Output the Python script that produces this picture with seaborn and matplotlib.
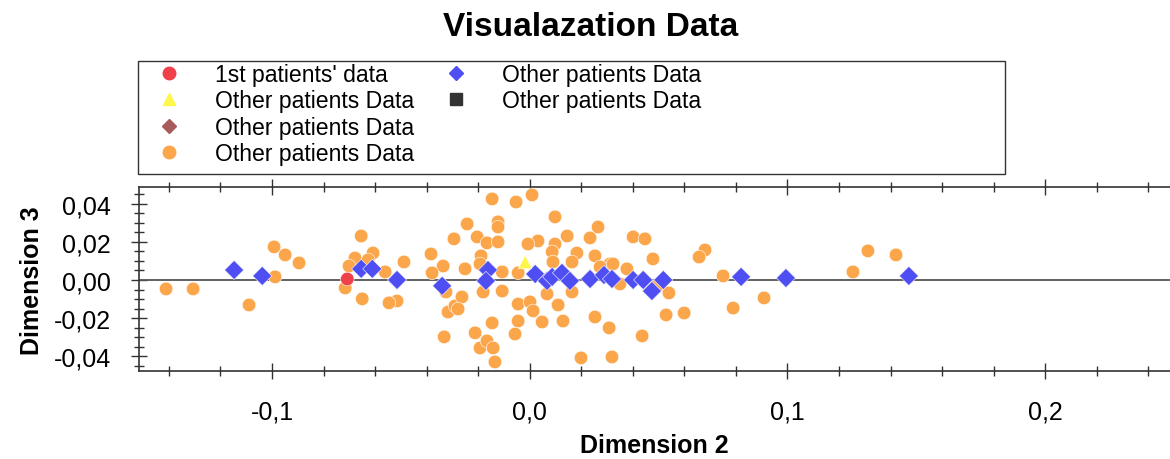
import numpy as np
import pandas as pd
import matplotlib
matplotlib.use("Agg")
import matplotlib.pyplot as plt
import seaborn as sns
from matplotlib.lines import Line2D
from matplotlib.patches import Rectangle
from matplotlib.ticker import MultipleLocator, FuncFormatter

# ===========================================
# data
# ===========================================
orange_x = [-0.1411, -0.1306, -0.1089, -0.0988, -0.0992, -0.0949, -0.0895, -0.0654, -0.0678, -0.0608,
            -0.0627, -0.0701, -0.0716, -0.0561, -0.0488, -0.0650, -0.0515, -0.0546, -0.0383, -0.0336,
            -0.0379, -0.0325, -0.0294, -0.0317, -0.0290, -0.0332, -0.0243, -0.0204, -0.0189, -0.0251,
            -0.0263, -0.0278, -0.0212, -0.0193, -0.0146, -0.0053, 0.0009, 0.0098, -0.0123, -0.0123,
            -0.0166, -0.0123, 0.0032, -0.0007, 0.0098, 0.0145, 0.0234, 0.0265, -0.0193, 0.0087,
            0.0183, 0.0253, 0.0311, 0.0273, -0.0107, -0.0045, 0.0090, 0.0164, -0.0181, -0.0107,
            0.0067, 0.0164, -0.0045, 0.0001, 0.0013, 0.0110, 0.0253, -0.0146, -0.0045, -0.0057,
            0.0048, 0.0129, 0.0308, -0.0166, -0.0142, -0.0135, 0.0199, 0.0319, 0.0401, 0.0447,
            0.0478, 0.0680, 0.0657, 0.0323, 0.0377, 0.0750, 0.0350, 0.0494, 0.0540, 0.0529,
            0.0599, 0.0789, 0.0909, 0.0436, 0.1254, 0.1312, 0.1421]
orange_y = [-0.0047, -0.0047, -0.0131, 0.0016, 0.0173, 0.0131, 0.0089, 0.0230, 0.0115, 0.0141,
            0.0105, 0.0073, -0.0042, 0.0042, 0.0094, -0.0099, -0.0110, -0.0120, 0.0136, 0.0073,
            0.0037, -0.0063, 0.0215, -0.0168, -0.0136, -0.0298, 0.0293, 0.0225, 0.0126, 0.0058,
            -0.0089, -0.0152, -0.0277, -0.0356, 0.0424, 0.0408, 0.0445, 0.0330, 0.0304, 0.0277,
            0.0194, 0.0199, 0.0204, 0.0188, 0.0188, 0.0230, 0.0220, 0.0277, 0.0084, 0.0147,
            0.0141, 0.0126, 0.0084, 0.0068, 0.0042, 0.0037, 0.0094, 0.0094, -0.0063, -0.0058,
            -0.0073, -0.0063, -0.0126, -0.0115, -0.0162, -0.0131, -0.0194, -0.0225, -0.0215, -0.0283,
            -0.0220, -0.0215, -0.0251, -0.0319, -0.0356, -0.0429, -0.0408, -0.0403, 0.0225, 0.0215,
            0.0110, 0.0157, 0.0120, 0.0084, 0.0058, 0.0021, -0.0021, -0.0031, -0.0068, -0.0183,
            -0.0173, -0.0147, -0.0094, -0.0293, 0.0042, 0.0152, 0.0131]

blue_x = [-0.1147, -0.1038, -0.0654, -0.0611, -0.0515, -0.0340, -0.0162, -0.0170, 0.0021, 0.0067,
          0.0087, 0.0125, 0.0156, 0.0234, 0.0288, 0.0319, 0.0401, 0.0440, 0.0518, 0.0474,
          0.0820, 0.0994, 0.1471]
blue_y = [0.0052, 0.0021, 0.0058, 0.0058, 0.0000, -0.0031, 0.0052, -0.0005, 0.0031, -0.0005,
          0.0016, 0.0037, -0.0005, 0.0005, 0.0026, 0.0005, 0.0000, 0.0000, 0.0000, -0.0058,
          0.0016, 0.0010, 0.0021]

red_x = [-0.0708]
red_y = [0.0005]
yellow_x = [-0.0018]
yellow_y = [0.0094]

legend_col1 = ["1st patients' data", "Other patients Data", "Other patients Data", "Other patients Data"]
legend_col2 = ["Other patients Data", "Other patients Data"]

# ===========================================
# style
# ===========================================
sns.set_style("white")
plt.rcParams['font.family'] = ['Liberation Sans', 'DejaVu Sans']
plt.rcParams['text.color'] = 'black'
plt.rcParams['axes.labelcolor'] = 'black'

CORES = {'orange': '#FBA64A', 'blue': '#4E4EF2', 'red': '#F0404A', 'yellow': '#FFF64A'}
MARCAS = {'orange': 'o', 'blue': 'D', 'red': 'o', 'yellow': '^'}

df = pd.concat([
    pd.DataFrame({'x': orange_x, 'y': orange_y, 'grupo': 'orange'}),
    pd.DataFrame({'x': blue_x, 'y': blue_y, 'grupo': 'blue'}),
    pd.DataFrame({'x': red_x, 'y': red_y, 'grupo': 'red'}),
    pd.DataFrame({'x': yellow_x, 'y': yellow_y, 'grupo': 'yellow'}),
], ignore_index=True)

fig = plt.figure(figsize=(11.7, 4.6), dpi=100)
ax = fig.add_axes([139 / 1170, 0.1907, 1 - 139 / 1170, 0.40])

ax.axhline(0, color='#555555', lw=1.3, zorder=1)

sns.scatterplot(data=df, x='x', y='y', hue='grupo', style='grupo',
                palette=CORES, markers=MARCAS, s=95, edgecolor='white',
                linewidth=0.4, legend=False, ax=ax, zorder=3)

ax.set_xlim(-0.1516, 0.2484)
ax.set_ylim(-0.0478, 0.0485)

ax.xaxis.set_major_locator(MultipleLocator(0.1))
ax.xaxis.set_minor_locator(MultipleLocator(0.02))
ax.yaxis.set_major_locator(MultipleLocator(0.02))
ax.yaxis.set_minor_locator(MultipleLocator(0.005))
ax.xaxis.set_major_formatter(FuncFormatter(lambda v, p: f"{v:.1f}".replace('.', ',').replace('-0,0', '0,0')))
ax.yaxis.set_major_formatter(FuncFormatter(lambda v, p: f"{v:.2f}".replace('.', ',').replace('-0,00', '0,00')))

ax.tick_params(which='both', direction='inout', top=True, bottom=True, left=True,
               right=False, color='#333333', labelcolor='black', width=1)
ax.tick_params(which='major', length=12, labelsize=18)
ax.tick_params(axis='x', which='major', pad=14)
ax.tick_params(axis='y', which='major', pad=14)
ax.tick_params(which='minor', length=7)
for lado in ['left', 'bottom', 'top']:
    ax.spines[lado].set_color('#333333')
    ax.spines[lado].set_linewidth(1.2)
ax.spines['right'].set_visible(False)

ax.set_xlabel('Dimension 2', fontsize=18, fontweight='bold', labelpad=7)
ax.set_ylabel('Dimension 3', fontsize=18, fontweight='bold', labelpad=7)
fig.suptitle('Visualazation Data', x=0.505, y=0.975, fontsize=24, fontweight='bold')

# legenda: duas colunas, 4 + 2 entradas
h_col1 = [
    Line2D([], [], ls='', marker='o', ms=9, color=CORES['red']),
    Line2D([], [], ls='', marker='^', ms=8, color=CORES['yellow']),
    Line2D([], [], ls='', marker='D', ms=7, color='#A85A5A'),
    Line2D([], [], ls='', marker='o', ms=9, color=CORES['orange']),
]
h_col2 = [
    Line2D([], [], ls='', marker='D', ms=7, color=CORES['blue']),
    Line2D([], [], ls='', marker='s', ms=9, color='#333333'),
]
opts = dict(loc='upper left', frameon=False, borderaxespad=0, borderpad=0,
            fontsize=16.6, handlelength=2.0, handletextpad=1.0, labelspacing=0.15)
fig.legend(h_col1, legend_col1, bbox_to_anchor=(146 / 1170, 1 - 64 / 460), **opts)
fig.legend(h_col2, legend_col2, bbox_to_anchor=(433 / 1170, 1 - 64 / 460), **opts)
fig.patches.append(Rectangle((138 / 1170, 1 - 175 / 460), 867 / 1170, 113 / 460,
                             transform=fig.transFigure, fill=False, ec='#333333', lw=1.0))

fig.savefig('out.png', dpi=100)
